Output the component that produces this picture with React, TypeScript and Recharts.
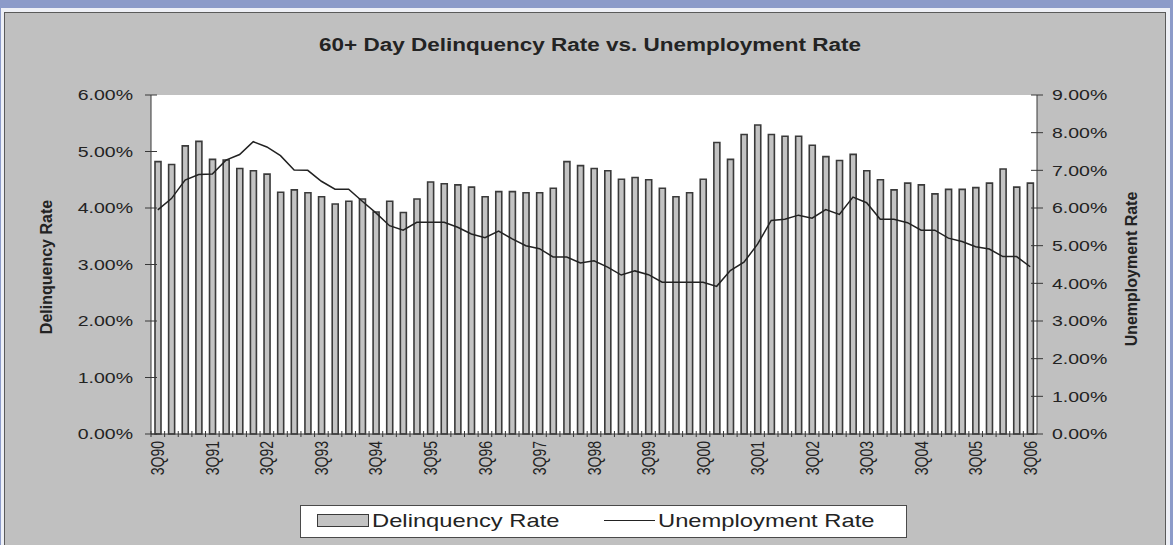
import React from 'react';
import { ComposedChart, Bar, Line, XAxis, YAxis, CartesianGrid } from 'recharts';

const quarters = [
  '3Q90', '4Q90',
  '1Q91', '2Q91', '3Q91', '4Q91',
  '1Q92', '2Q92', '3Q92', '4Q92',
  '1Q93', '2Q93', '3Q93', '4Q93',
  '1Q94', '2Q94', '3Q94', '4Q94',
  '1Q95', '2Q95', '3Q95', '4Q95',
  '1Q96', '2Q96', '3Q96', '4Q96',
  '1Q97', '2Q97', '3Q97', '4Q97',
  '1Q98', '2Q98', '3Q98', '4Q98',
  '1Q99', '2Q99', '3Q99', '4Q99',
  '1Q00', '2Q00', '3Q00', '4Q00',
  '1Q01', '2Q01', '3Q01', '4Q01',
  '1Q02', '2Q02', '3Q02', '4Q02',
  '1Q03', '2Q03', '3Q03', '4Q03',
  '1Q04', '2Q04', '3Q04', '4Q04',
  '1Q05', '2Q05', '3Q05', '4Q05',
  '1Q06', '2Q06', '3Q06',
];

const delinquencyRate = [
  4.82, 4.77,
  5.10, 5.18, 4.86, 4.85,
  4.70, 4.66, 4.60, 4.28,
  4.32, 4.27, 4.20, 4.07,
  4.12, 4.16, 3.93, 4.12,
  3.92, 4.16, 4.46, 4.43,
  4.41, 4.37, 4.20, 4.29,
  4.29, 4.27, 4.27, 4.35,
  4.82, 4.75, 4.70, 4.66,
  4.51, 4.54, 4.50, 4.35,
  4.20, 4.27, 4.51, 5.16,
  4.86, 5.30, 5.47, 5.30,
  5.27, 5.27, 5.11, 4.91,
  4.84, 4.95, 4.66, 4.50,
  4.32, 4.44, 4.41, 4.25,
  4.33, 4.33, 4.36, 4.44,
  4.69, 4.37, 4.44,
];

const unemploymentRate = [
  5.95, 6.25,
  6.74, 6.89, 6.90, 7.27,
  7.42, 7.76, 7.62, 7.39,
  7.01, 7.00, 6.71, 6.50,
  6.50, 6.18, 5.87, 5.53,
  5.41, 5.62, 5.62, 5.62,
  5.49, 5.31, 5.21, 5.39,
  5.18, 5.00, 4.92, 4.70,
  4.70, 4.54, 4.60, 4.43,
  4.22, 4.33, 4.23, 4.03,
  4.03, 4.03, 4.03, 3.92,
  4.34, 4.56, 5.04, 5.67,
  5.70, 5.81, 5.73, 5.96,
  5.83, 6.29, 6.14, 5.70,
  5.70, 5.61, 5.41, 5.41,
  5.20, 5.11, 4.97, 4.91,
  4.71, 4.71, 4.44,
];

const xTickLabels = [
  '3Q90', '3Q91', '3Q92', '3Q93', '3Q94', '3Q95', '3Q96', '3Q97', '3Q98',
  '3Q99', '3Q00', '3Q01', '3Q02', '3Q03', '3Q04', '3Q05', '3Q06',
];
const leftTicks = [0, 1, 2, 3, 4, 5, 6];
const rightTicks = [0, 1, 2, 3, 4, 5, 6, 7, 8, 9];

const chartTitle = '60+ Day Delinquency Rate vs. Unemployment Rate';
const leftTitle = 'Delinquency Rate';
const rightTitle = 'Unemployment Rate';
const barLegend = 'Delinquency Rate';
const lineLegend = 'Unemployment Rate';

const data = quarters.map((q, i) => ({
  quarter: q,
  delinquency: delinquencyRate[i],
  unemployment: unemploymentRate[i],
}));

const FONT = '"Liberation Sans", Arial, Helvetica, sans-serif';
const TEXT = '#232323';
const AXIS = '#383838';
const STRETCH = 1.3;
const pct = (v: number) => `${v.toFixed(2)}%`;

const LeftTick = (props: any) => {
  const { x, y, payload } = props;
  return (
    <g transform={`translate(${x},${y})`}>
      <line x1={12} x2={24} y1={0} y2={0} stroke={AXIS} strokeWidth={1} />
      <text
        x={0}
        y={0}
        dy="0.36em"
        textAnchor="end"
        transform={`scale(${STRETCH},1)`}
        fontSize={15}
        fontFamily={FONT}
        fill={TEXT}
      >
        {pct(payload.value)}
      </text>
    </g>
  );
};

const RightTick = (props: any) => {
  const { x, y, payload } = props;
  return (
    <g transform={`translate(${x},${y})`}>
      <line x1={-21} x2={-9} y1={0} y2={0} stroke={AXIS} strokeWidth={1} />
      <text
        x={0}
        y={0}
        dy="0.36em"
        textAnchor="start"
        transform={`scale(${STRETCH},1)`}
        fontSize={15}
        fontFamily={FONT}
        fill={TEXT}
      >
        {pct(payload.value)}
      </text>
    </g>
  );
};

const BottomTick = (props: any) => {
  const { x, y, payload } = props;
  const half = payload && typeof payload.offset === 'number' && payload.offset > 0 ? payload.offset : 6.8;
  const show = xTickLabels.includes(payload.value);
  return (
    <g transform={`translate(${x},${y})`}>
      <line x1={-half} x2={-half} y1={-10} y2={-4} stroke={AXIS} strokeWidth={1} />
      {show && (
        <text
          x={0}
          y={0}
          dy="0.36em"
          textAnchor="end"
          transform={`scale(${STRETCH},1) rotate(-90)`}
          fontSize={14}
          fontFamily={FONT}
          fill={TEXT}
        >
          {payload.value}
        </text>
      )}
    </g>
  );
};

export default function App() {
  return (
    <div
      style={{
        position: 'absolute',
        left: 0,
        top: 0,
        width: 1173,
        height: 545,
        background: '#8c9bc9',
        overflow: 'hidden',
        fontFamily: FONT,
      }}
    >
      <div style={{ position: 'absolute', left: 1, top: 8, width: 1169, height: 560, background: '#eef0f6' }} />
      <div
        style={{
          position: 'absolute',
          left: 4,
          top: 12,
          width: 1162,
          height: 560,
          background: '#c0c0c0',
          border: '1px solid #5a5a5a',
          boxSizing: 'border-box',
        }}
      />
      <div
        style={{
          position: 'absolute',
          left: 0,
          top: 36,
          width: 1180,
          textAlign: 'center',
          fontSize: 18,
          lineHeight: 1,
          fontWeight: 'bold',
          color: TEXT,
          whiteSpace: 'nowrap',
          transform: 'scaleX(1.25)',
          transformOrigin: '590px 0px',
        }}
      >
        {chartTitle}
      </div>
      <div style={{ position: 'absolute', left: 0, top: 0 }}>
        <ComposedChart
          width={1173}
          height={545}
          data={data}
          margin={{ top: 95, right: 36, bottom: 66, left: 51 }}
          barCategoryGap={0}
        >
          <CartesianGrid horizontal={false} vertical={false} fill="#ffffff" />
          <XAxis
            dataKey="quarter"
            interval={0}
            height={45}
            tickSize={4}
            tickMargin={3}
            tickLine={false}
            axisLine={{ stroke: AXIS, strokeWidth: 1 }}
            tick={<BottomTick />}
          />
          <YAxis
            yAxisId="left"
            orientation="left"
            width={100}
            domain={[0, 6]}
            ticks={leftTicks}
            interval={0}
            tickSize={6}
            tickMargin={12}
            tickLine={false}
            axisLine={{ stroke: AXIS, strokeWidth: 1 }}
            tick={<LeftTick />}
          />
          <YAxis
            yAxisId="right"
            orientation="right"
            width={100}
            domain={[0, 9]}
            ticks={rightTicks}
            interval={0}
            tickSize={6}
            tickMargin={9}
            tickLine={false}
            axisLine={{ stroke: AXIS, strokeWidth: 1 }}
            tick={<RightTick />}
          />
          <Bar
            yAxisId="left"
            dataKey="delinquency"
            name={barLegend}
            fill="#c3c3c3"
            stroke="#3a3a3a"
            strokeWidth={1.6}
            barSize={6}
            isAnimationActive={false}
          />
          <Line
            yAxisId="right"
            dataKey="unemployment"
            name={lineLegend}
            type="linear"
            stroke="#222222"
            strokeWidth={1.5}
            dot={false}
            activeDot={false}
            isAnimationActive={false}
          />
        </ComposedChart>
      </div>
      <div
        style={{
          position: 'absolute',
          left: 47,
          top: 267,
          transform: 'translate(-50%, -50%) rotate(-90deg)',
          whiteSpace: 'nowrap',
          fontSize: 16,
          fontWeight: 'bold',
          color: TEXT,
        }}
      >
        {leftTitle}
      </div>
      <div
        style={{
          position: 'absolute',
          left: 1132,
          top: 269,
          transform: 'translate(-50%, -50%) rotate(-90deg)',
          whiteSpace: 'nowrap',
          fontSize: 16,
          fontWeight: 'bold',
          color: TEXT,
        }}
      >
        {rightTitle}
      </div>
      <div
        style={{
          position: 'absolute',
          left: 300,
          top: 505,
          width: 607,
          height: 33,
          boxSizing: 'border-box',
          background: '#ffffff',
          border: '1.5px solid #4a4a4a',
          color: TEXT,
        }}
      >
        <div
          style={{
            position: 'absolute',
            left: 16,
            top: 8,
            width: 52,
            height: 13,
            background: '#c3c3c3',
            border: '1.5px solid #3a3a3a',
            boxSizing: 'border-box',
          }}
        />
        <div
          style={{
            position: 'absolute',
            left: 71,
            top: 0,
            height: 30,
            lineHeight: '30px',
            fontSize: 19,
            whiteSpace: 'nowrap',
            transform: 'scaleX(1.25)',
            transformOrigin: '0px 50%',
          }}
        >
          {barLegend}
        </div>
        <div
          style={{
            position: 'absolute',
            left: 303,
            top: 14,
            width: 51,
            height: 0,
            borderTop: '1.5px solid #222222',
          }}
        />
        <div
          style={{
            position: 'absolute',
            left: 357,
            top: 0,
            height: 30,
            lineHeight: '30px',
            fontSize: 19,
            whiteSpace: 'nowrap',
            transform: 'scaleX(1.25)',
            transformOrigin: '0px 50%',
          }}
        >
          {lineLegend}
        </div>
      </div>
    </div>
  );
}
